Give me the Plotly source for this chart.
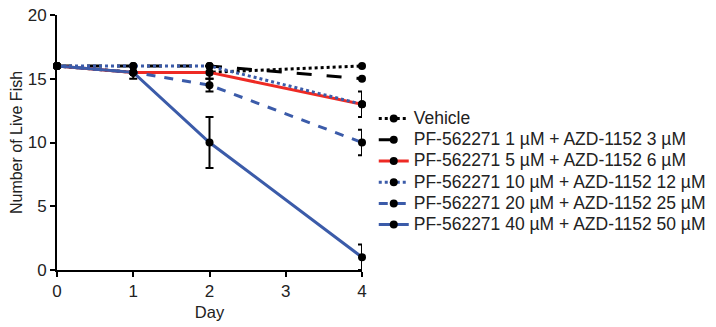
import plotly.graph_objects as go

days = [0, 1, 2, 4]
names = [
    "Vehicle",
    "PF-562271 1 µM + AZD-1152 3 µM",
    "PF-562271 5 µM + AZD-1152 6 µM",
    "PF-562271 10 µM + AZD-1152 12 µM",
    "PF-562271 20 µM + AZD-1152 25 µM",
    "PF-562271 40 µM + AZD-1152 50 µM",
]
vehicle = [16, 15.5, 15.5, 16]
pf1 = [16, 16, 16, 15]
pf5 = [16, 15.5, 15.5, 13]
pf10 = [16, 16, 16, 13]
pf20 = [16, 15.5, 14.5, 10]
pf40 = [16, 15.5, 10, 1]
err_vehicle = [0, 0, 0, 0]
err_pf1 = [0, 0, 0, 0]
err_pf5 = [0, 0.5, 0.5, 1]
err_pf10 = [0, 0, 0, 0]
err_pf20 = [0, 0, 0.5, 1]
err_pf40 = [0, 0, 2, 1]

series = [vehicle, pf1, pf5, pf10, pf20, pf40]
errors = [err_vehicle, err_pf1, err_pf5, err_pf10, err_pf20, err_pf40]
colors = ["#000000", "#000000", "#ee2a24", "#3b5ba9", "#3b5ba9", "#3b5ba9"]
dashes = ["dot", "longdash", "solid", "dot", "dash", "solid"]

fig = go.Figure()
for n, y, e, c, d in zip(names, series, errors, colors, dashes):
    fig.add_trace(go.Scatter(
        x=days, y=y, mode="lines+markers",
        name='<span style="font-size:17.5px">' + n + '</span>',
        line=dict(color=c, dash=d, width=3),
        marker=dict(color="black", size=8),
        error_y=dict(type="data", array=e, visible=True, color="black",
                     thickness=2, width=4),
        cliponaxis=False,
    ))

fig.update_layout(
    width=716, height=327,
    margin=dict(l=57, r=354, t=15, b=57, autoexpand=False),
    plot_bgcolor="white", paper_bgcolor="white",
    font=dict(family="Liberation Sans, Arial", size=16, color="#222222"),
    showlegend=True,
    legend=dict(xref="container", yref="container", x=0.522, y=0.474,
                xanchor="left", yanchor="middle",
                font=dict(size=14, color="#222222"), tracegroupgap=0,
                itemwidth=30, bgcolor="rgba(0,0,0,0)"),
    xaxis=dict(range=[0, 4], tickvals=[0, 1, 2, 3, 4], showline=True,
               linecolor="black", linewidth=2, ticks="outside", ticklen=5,
               tickwidth=2, tickcolor="black", showgrid=False, zeroline=False,
               automargin=False,
               title=dict(text="Day", font=dict(size=16.5), standoff=6),
               tickfont=dict(size=17)),
    yaxis=dict(range=[0, 20], tickvals=[0, 5, 10, 15, 20], showline=True,
               linecolor="black", linewidth=2, ticks="outside", ticklen=5,
               tickwidth=2, tickcolor="black", showgrid=False, zeroline=False,
               automargin=False,
               title=dict(text="Number of Live Fish", font=dict(size=16), standoff=1),
               tickfont=dict(size=17)),
)
fig.write_html(
    "out.html",
    config={"displayModeBar": False},
    post_script="document.body.style.margin='0';document.body.style.overflow='hidden';",
)
